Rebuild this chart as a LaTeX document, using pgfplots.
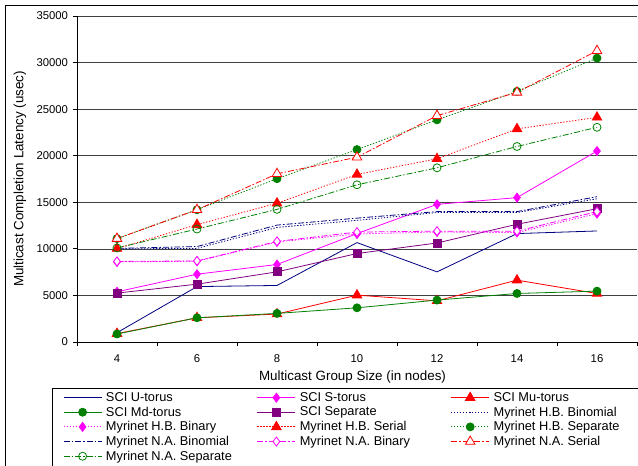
\documentclass[border=0pt]{standalone}
\usepackage{fontspec}
\setmainfont{Liberation Sans}
\usepackage{pgfplots}
\pgfplotsset{compat=1.18}
\definecolor{navy}{RGB}{0,0,128}
\definecolor{mag}{RGB}{255,0,255}
\definecolor{xred}{RGB}{255,0,0}
\definecolor{xgreen}{RGB}{0,128,0}
\definecolor{xpurple}{RGB}{128,0,128}
\tikzset{dotd/.style={dash pattern=on 1.3pt off 1.7pt},
         dashdotd/.style={dash pattern=on 6pt off 2pt on 1.5pt off 2pt}}
\newcommand{\LE}[1]{\makebox[153pt][l]{\hspace{3pt}#1}}
\begin{document}
\begin{tikzpicture}
\path[use as bounding box] (0,0) rectangle (638pt,466pt);
\clip (0,0) rectangle (638pt,466pt);
\draw[black, line width=0.8pt] (5pt,-20pt) -- (5pt,461pt) -- (700pt,461pt);
\begin{axis}[
  at={(77pt,124pt)}, anchor=south west,
  scale only axis, width=560pt, height=326pt,
  xmin=3, xmax=17, ymin=0, ymax=35000,
  axis lines*=left, axis line style={black, line width=0.8pt, -},
  xtick={3,5,...,17}, xticklabels={},
  extra x ticks={4,6,...,16},
  extra x tick style={major tick length=0pt, grid=none, xticklabel style={yshift=-9pt}},
  extra x tick labels={4,6,8,10,12,14,16},
  ytick={0,5000,...,35000},
  scaled y ticks=false,
  tick align=outside, major tick length=4pt,
  tick style={black, line width=0.8pt},
  ymajorgrids, grid style={black!75, line width=0.6pt},
  /pgf/number format/1000 sep={},
  /pgf/number format/assume math mode=true,
  ticklabel style={font=\fontsize{11.3}{13}\selectfont},
  yticklabel style={xshift=-1.5pt},
  every axis x label/.style={at={(axis description cs:0.492,-0.108)}, anchor=center},
  every axis y label/.style={at={(axis description cs:-0.1018,0.5)}, rotate=90, anchor=center},
  label style={font=\fontsize{13.4}{15}\selectfont},
  xlabel={Multicast Group Size (in nodes)},
  ylabel={Multicast Completion Latency (usec)},
  legend columns=3,
  legend style={at={(axis description cs:-0.04464,-0.1411)}, anchor=north west,
    draw=black, inner xsep=11pt, inner ysep=3.8pt,
    font=\fontsize{12.8}{14.2}\selectfont,
    nodes={inner xsep=1pt, inner ysep=0.5pt}, column sep=0pt, row sep=2.9pt},
  legend image code/.code={\draw[mark repeat=2,mark phase=2,#1] plot coordinates {(0pt,0pt) (19pt,0pt) (38pt,0pt)};},
  every axis plot/.append style={line width=0.8pt},
]
% SCI U-torus
\addplot[navy, solid, mark=none] coordinates {(4,1000) (6,5950) (8,6070) (10,10670) (12,7530) (14,11640) (16,11920)};
\addlegendentry{\LE{SCI U-torus}}
% SCI S-torus
\addplot[mag, solid, mark=diamond*, mark size=4.5pt, mark options={solid, fill=mag}] coordinates {(4,5390) (6,7280) (8,8320) (10,11640) (12,14780) (14,15500) (16,20500)};
\addlegendentry{\LE{SCI S-torus}}
% SCI Mu-torus
\addplot[xred, solid, mark=triangle*, mark size=5.5pt, mark options={solid, fill=xred}] coordinates {(4,900) (6,2600) (8,3000) (10,5030) (12,4420) (14,6640) (16,5210)};
\addlegendentry{\LE{SCI Mu-torus}}
% SCI Md-torus
\addplot[xgreen, solid, mark=*, mark size=4pt, mark options={solid, fill=xgreen}] coordinates {(4,860) (6,2600) (8,3070) (10,3670) (12,4500) (14,5210) (16,5460)};
\addlegendentry{\LE{SCI Md-torus}}
% SCI Separate
\addplot[xpurple, solid, mark=square*, mark size=4pt, mark options={solid, fill=xpurple}] coordinates {(4,5250) (6,6210) (8,7530) (10,9500) (12,10630) (14,12640) (16,14310)};
\addlegendentry{\LE{SCI Separate}}
% Myrinet H.B. Binomial
\addplot[navy, dotd, mark=none] coordinates {(4,10000) (6,10050) (8,12300) (10,13060) (12,13900) (14,13900) (16,15380)};
\addlegendentry{\LE{Myrinet H.B. Binomial}}
% Myrinet H.B. Binary
\addplot[mag, dotd, mark=diamond*, mark size=4.5pt, mark options={solid, fill=mag}] coordinates {(4,8600) (6,8670) (8,10740) (10,11600) (12,11810) (14,11750) (16,13780)};
\addlegendentry{\LE{Myrinet H.B. Binary}}
% Myrinet H.B. Serial
\addplot[xred, dotd, mark=triangle*, mark size=5.5pt, mark options={solid, fill=xred}] coordinates {(4,10030) (6,12600) (8,14900) (10,17990) (12,19670) (14,22880) (16,24120)};
\addlegendentry{\LE{Myrinet H.B. Serial}}
% Myrinet H.B. Separate
\addplot[xgreen, dotd, mark=*, mark size=4pt, mark options={solid, fill=xgreen}] coordinates {(4,11100) (6,14200) (8,17530) (10,20660) (12,23850) (14,26910) (16,30480)};
\addlegendentry{\LE{Myrinet H.B. Separate}}
% Myrinet N.A. Binomial
\addplot[navy, dashdotd, mark=none] coordinates {(4,10050) (6,10250) (8,12550) (10,13300) (12,14000) (14,14000) (16,15600)};
\addlegendentry{\LE{Myrinet N.A. Binomial}}
% Myrinet N.A. Binary
\addplot[mag, dashdotd, mark=diamond*, mark size=4.5pt, mark options={solid, fill=white}] coordinates {(4,8650) (6,8700) (8,10800) (10,11800) (12,11900) (14,11900) (16,14000)};
\addlegendentry{\LE{Myrinet N.A. Binary}}
% Myrinet N.A. Serial
\addplot[xred, dashdotd, mark=triangle*, mark size=5.5pt, mark options={solid, fill=white}] coordinates {(4,11100) (6,14200) (8,18060) (10,19840) (12,24300) (14,26800) (16,31270)};
\addlegendentry{\LE{Myrinet N.A. Serial}}
% Myrinet N.A. Separate
\addplot[xgreen, dashdotd, mark=o, mark size=4pt, mark options={solid}] coordinates {(4,10100) (6,12130) (8,14240) (10,16880) (12,18700) (14,20990) (16,23050)};
\addlegendentry{\LE{Myrinet N.A. Separate}}
\end{axis}
\end{tikzpicture}
\end{document}
